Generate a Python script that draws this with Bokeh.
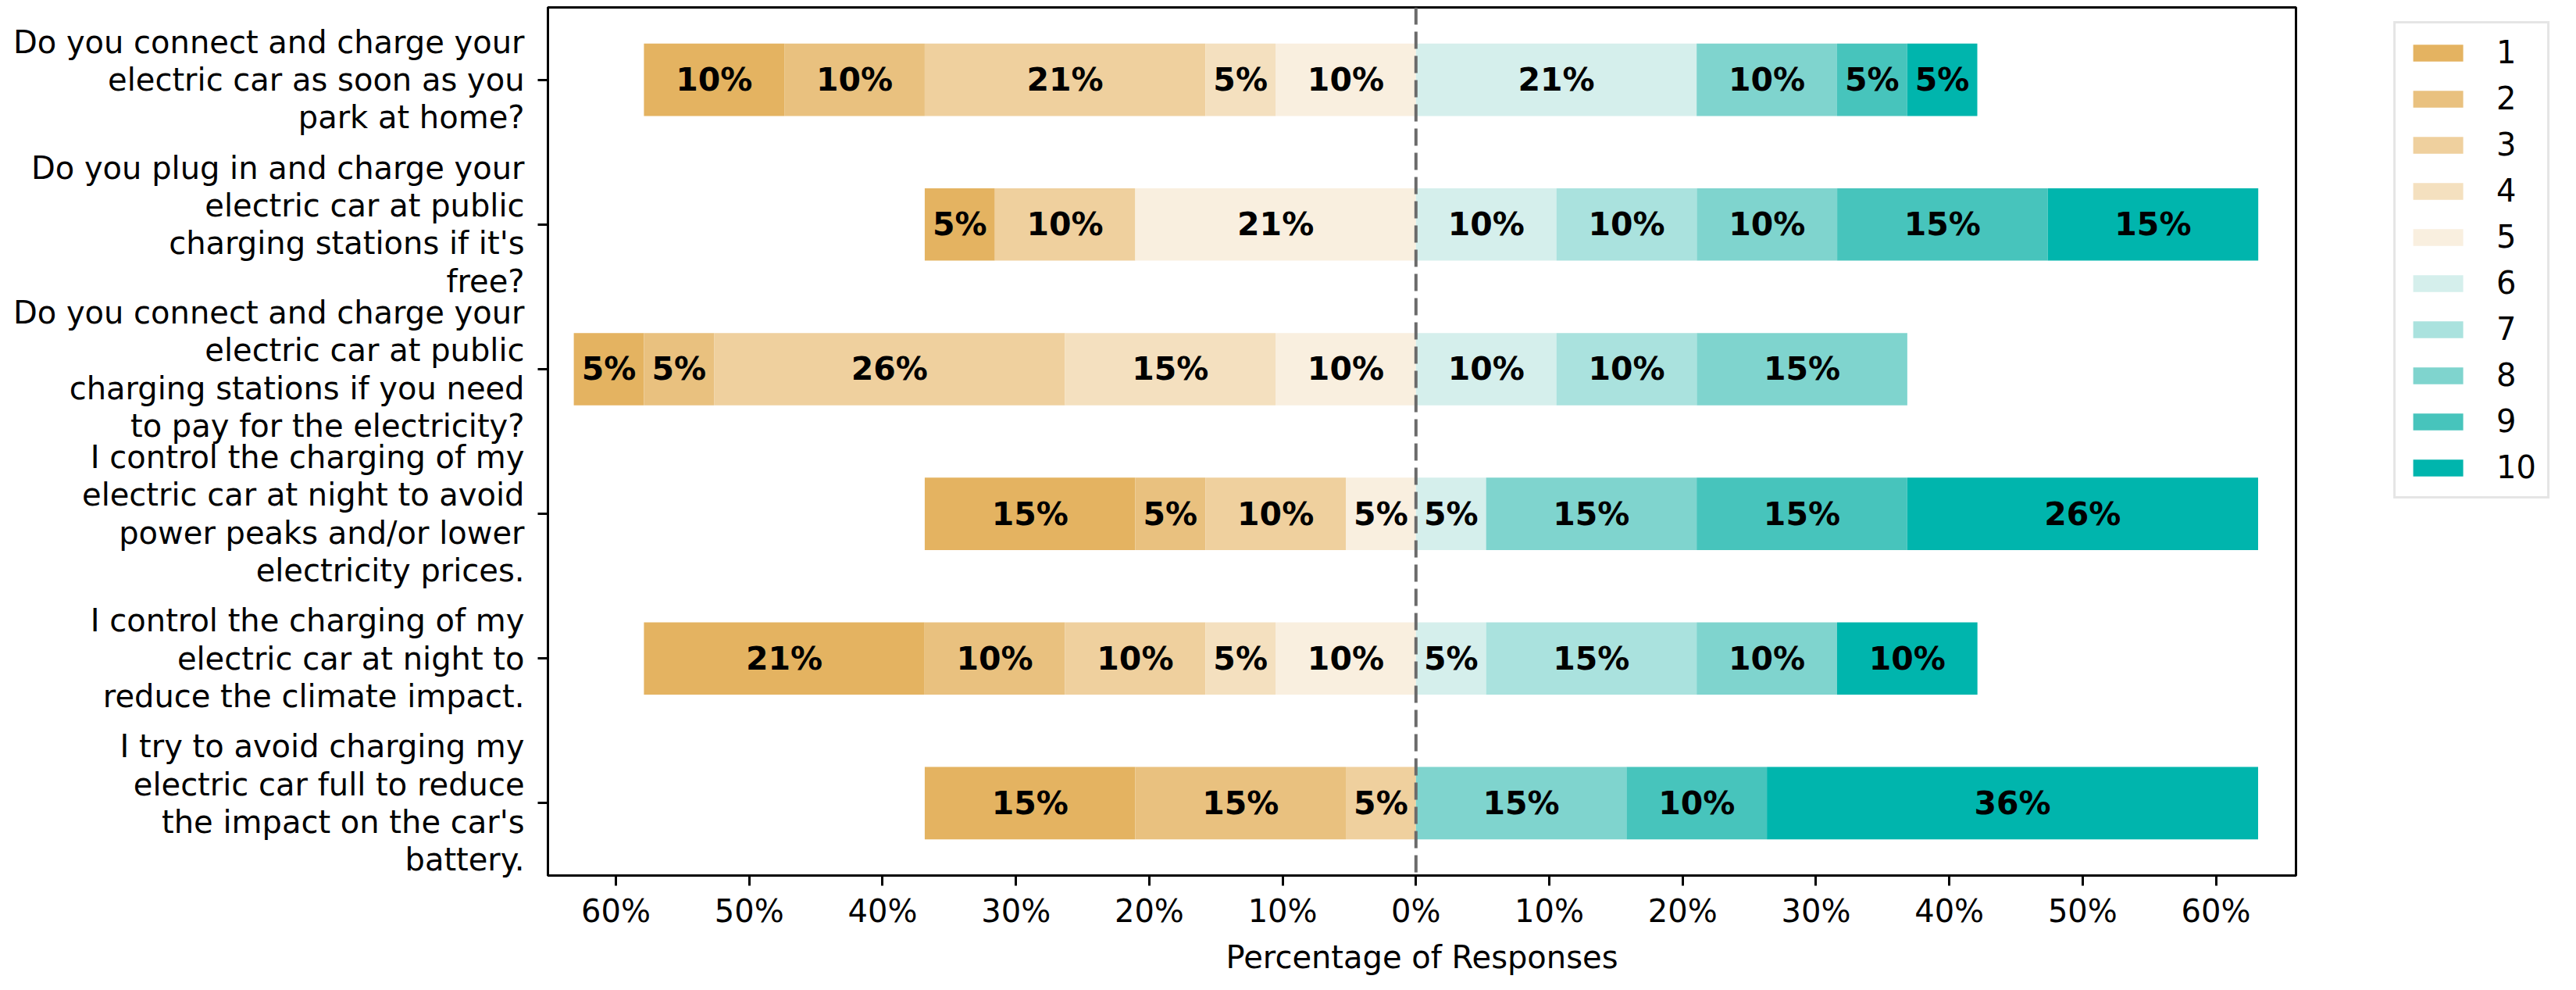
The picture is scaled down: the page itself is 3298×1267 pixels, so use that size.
from bokeh.plotting import figure
from bokeh.layouts import row
from bokeh.models import (FactorRange, Range1d, ColumnDataSource, Legend, LegendItem,
                          Span, FixedTicker, CustomJSTickFormatter)
from bokeh.core.properties import value
from bokeh.embed import file_html
from bokeh.resources import INLINE

questions = [
    "Do you connect and charge your\nelectric car as soon as you\npark at home?",
    "Do you plug in and charge your\nelectric car at public\ncharging stations if it's\nfree?",
    "Do you connect and charge your\nelectric car at public\ncharging stations if you need\nto pay for the electricity?",
    "I control the charging of my\nelectric car at night to avoid\npower peaks and/or lower\nelectricity prices.",
    "I control the charging of my\nelectric car at night to\nreduce the climate impact.",
    "I try to avoid charging my\nelectric car full to reduce\nthe impact on the car's\nbattery.",
]

levels = ["1", "2", "3", "4", "5", "6", "7", "8", "9", "10"]

# percentage of responses per rating level, one value per question (top to bottom)
lvl1 = [10.53, 5.26, 5.26, 15.79, 21.05, 15.79]
lvl2 = [10.53, 0.0, 5.26, 5.26, 10.53, 15.79]
lvl3 = [21.05, 10.53, 26.32, 10.53, 10.53, 5.26]
lvl4 = [5.26, 0.0, 15.79, 0.0, 5.26, 0.0]
lvl5 = [10.53, 21.05, 10.53, 5.26, 10.53, 0.0]
lvl6 = [21.05, 10.53, 10.53, 5.26, 5.26, 0.0]
lvl7 = [0.0, 10.53, 10.53, 0.0, 15.79, 0.0]
lvl8 = [10.53, 10.53, 15.79, 15.79, 10.53, 15.79]
lvl9 = [5.26, 15.79, 0.0, 15.79, 0.0, 10.53]
lvl10 = [5.26, 15.79, 0.0, 26.32, 10.53, 36.84]

colors = ["#E4B361", "#E9C17F", "#EFD09E", "#F4E0BF", "#F9EFDF",
          "#D5EFEC", "#AAE2DE", "#7FD4CE", "#47C4BC", "#00B5AD"]

tick_values = [-60, -50, -40, -30, -20, -10, 0, 10, 20, 30, 40, 50, 60]

series = [lvl1, lvl2, lvl3, lvl4, lvl5, lvl6, lvl7, lvl8, lvl9, lvl10]

FONT = "DejaVu Sans"
FS = "40px"

p = figure(width=2941, height=1251,
           y_range=FactorRange(factors=questions[::-1], range_padding=0),
           x_range=Range1d(-65.1, 66.0),
           output_backend="svg", toolbar_location=None,
           min_border_left=701, min_border_right=2,
           min_border_top=9, min_border_bottom=131)

# legend panel to the right of the chart
p2 = figure(width=341, height=1251, x_axis_type=None, y_axis_type=None,
            y_range=FactorRange(factors=questions[::-1], range_padding=0),
            x_range=Range1d(-65.1, 66.0),
            output_backend="svg", toolbar_location=None,
            min_border_left=0, min_border_right=0,
            min_border_top=9, min_border_bottom=0)
p2.outline_line_color = None
p2.xgrid.visible = False
p2.ygrid.visible = False

# stacking: levels 1-5 diverge to the left (5 nearest zero), 6-10 to the right
n = len(questions)
neg_cum = [0.0] * n
edges = {}
for i in [4, 3, 2, 1, 0]:
    r = [-c for c in neg_cum]
    l = [-(c + v) for c, v in zip(neg_cum, series[i])]
    edges[i] = (l, r)
    neg_cum = [c + v for c, v in zip(neg_cum, series[i])]
pos_cum = [0.0] * n
for i in [5, 6, 7, 8, 9]:
    l = list(pos_cum)
    r = [c + v for c, v in zip(pos_cum, series[i])]
    edges[i] = (l, r)
    pos_cum = r

items = []
lab_x, lab_y, lab_t = [], [], []
for i in range(10):
    l, r = edges[i]
    src = ColumnDataSource(dict(q=questions, left=l, right=r))
    p.hbar(y="q", left="left", right="right", height=0.5, source=src,
           fill_color=colors[i], line_color=None)
    # hidden twin renderer that only feeds the legend panel
    twin = p2.hbar(y="q", left="left", right="right", height=0.5, source=src,
                   fill_color=colors[i], line_color=None, visible=False)
    items.append(LegendItem(label=levels[i], renderers=[twin]))
    for q, a, b, v in zip(questions, l, r, series[i]):
        if v > 0:
            lab_x.append((a + b) / 2)
            lab_y.append(q)
            lab_t.append(f"{int(v)}%")

lab_src = ColumnDataSource(dict(x=lab_x, y=lab_y, t=lab_t))
p.text(x="x", y="y", text="t", source=lab_src, text_align="center",
       text_baseline="middle", text_font=value(FONT), text_font_size="41px",
       text_font_style="bold", text_color="black")

p.add_layout(Span(location=0, dimension="height", line_color="#6b6b6b",
                  line_width=4, line_dash="22 9"))

p.xgrid.visible = False
p.ygrid.visible = False
p.outline_line_color = "black"
p.outline_line_width = 3
p.outline_line_alpha = 1

p.xaxis.ticker = FixedTicker(ticks=tick_values)
p.xaxis.formatter = CustomJSTickFormatter(code="return Math.abs(tick).toFixed(0) + '%';")
p.xaxis.axis_label = "Percentage of Responses"

for ax in [p.xaxis[0], p.yaxis[0]]:
    ax.axis_line_color = "black"
    ax.axis_line_width = 3
    ax.major_tick_line_color = "black"
    ax.major_tick_line_width = 3
    ax.major_tick_out = 13
    ax.major_tick_in = 0
    ax.minor_tick_line_color = None
    ax.major_label_text_font = FONT
    ax.major_label_text_font_size = FS
    ax.major_label_text_color = "black"
    ax.axis_label_text_font = FONT
    ax.axis_label_text_font_size = FS
    ax.axis_label_text_font_style = "normal"
    ax.axis_label_text_color = "black"

p.xaxis.major_label_standoff = 9
p.xaxis.axis_label_standoff = 10
p.yaxis.major_label_standoff = 17
p.yaxis[0].major_label_text_align = "right"
p.yaxis[0].major_label_text_line_height = 1.05

legend = Legend(items=items, location="top_right")
legend.label_text_font = FONT
legend.label_text_font_size = FS
legend.label_text_color = "black"
legend.glyph_width = 80
legend.glyph_height = 27
legend.label_standoff = 35
legend.padding = 14
legend.spacing = 13
legend.margin = 18
legend.border_line_color = "#cccccc"
legend.border_line_width = 3
legend.background_fill_color = "white"
p2.add_layout(legend)

layout = row(p, p2, spacing=0)
open("out.html", "w").write(file_html(layout, INLINE))
